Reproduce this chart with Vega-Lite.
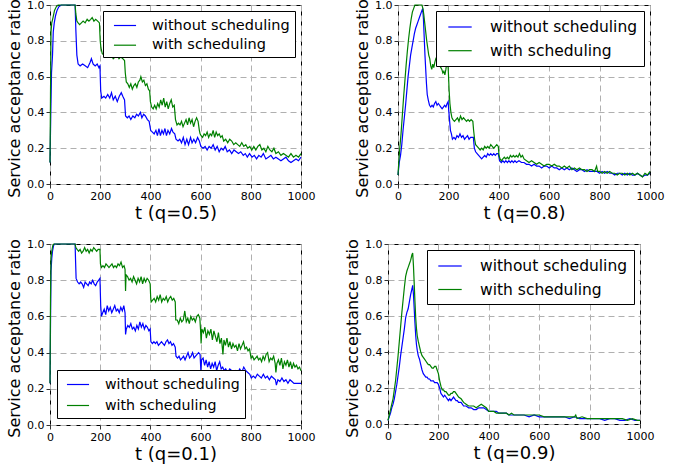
{
"$schema": "https://vega.github.io/schema/vega-lite/v6.json",
"padding": {"left": 6, "top": -2, "right": 0, "bottom": 0},
"config": {
 "font": "DejaVu Sans",
 "view": {"stroke": "#000", "strokeWidth": 1},
 "axis": {"domain": false, "grid": true, "gridColor": "#b0b0b0", "gridDash": [6, 4], "gridWidth": 1, "tickColor": "#000", "tickSize": 4, "tickWidth": 0.8, "labelColor": "#000", "labelFontSize": 11, "labelFont": "DejaVu Sans", "titleFont": "DejaVu Sans", "titleColor": "#000", "titleFontWeight": "normal", "labelFlush": false, "labelOverlap": false},
 "axisX": {"values": [0, 200, 400, 600, 800, 1000], "format": "d", "titleFontSize": 18, "titlePadding": 3, "labelPadding": 2},
 "axisY": {"values": [0, 0.2, 0.4, 0.6, 0.8, 1.0], "format": ".1f", "titleFontSize": 16, "titlePadding": 4, "labelPadding": 2, "titleY": 93},
 "legend": {"strokeColor": "#000", "fillColor": "#fff", "padding": 5, "symbolType": "M-1.3,0H1.3", "symbolSize": 289, "symbolStrokeWidth": 1.5, "symbolOffset": 7.5, "labelFontSize": 14.5, "labelFont": "DejaVu Sans", "labelColor": "#000", "labelOffset": 17.5, "rowPadding": 3.7, "offset": 6, "cornerRadius": 0, "title": null},
 "line": {"strokeWidth": 1.2}
},
"datasets": {
 "aw": [{"t":0,"v":0.12},{"t":3,"v":0.38},{"t":6,"v":0.62},{"t":10,"v":0.72},{"t":13,"v":0.85},{"t":17,"v":0.9},{"t":22,"v":0.94},{"t":28,"v":0.97},{"t":35,"v":0.99},{"t":45,"v":1.0},{"t":100,"v":1.0},{"t":103,"v":0.86},{"t":107,"v":0.72},{"t":112,"v":0.67},{"t":120,"v":0.66},{"t":130,"v":0.67},{"t":140,"v":0.66},{"t":150,"v":0.65},{"t":160,"v":0.68},{"t":165,"v":0.70},{"t":172,"v":0.67},{"t":180,"v":0.66},{"t":188,"v":0.67},{"t":195,"v":0.65},{"t":199,"v":0.66},{"t":202,"v":0.52},{"t":206,"v":0.48},{"t":215,"v":0.49},{"t":222,"v":0.48},{"t":230,"v":0.50},{"t":238,"v":0.48},{"t":245,"v":0.51},{"t":252,"v":0.47},{"t":260,"v":0.49},{"t":268,"v":0.46},{"t":276,"v":0.49},{"t":284,"v":0.51},{"t":290,"v":0.49},{"t":297,"v":0.47},{"t":301,"v":0.38},{"t":308,"v":0.37},{"t":315,"v":0.38},{"t":322,"v":0.36},{"t":330,"v":0.38},{"t":338,"v":0.37},{"t":345,"v":0.39},{"t":352,"v":0.38},{"t":360,"v":0.40},{"t":366,"v":0.37},{"t":373,"v":0.39},{"t":380,"v":0.38},{"t":388,"v":0.36},{"t":395,"v":0.35},{"t":401,"v":0.30},{"t":408,"v":0.29},{"t":415,"v":0.28},{"t":422,"v":0.30},{"t":428,"v":0.27},{"t":434,"v":0.31},{"t":440,"v":0.27},{"t":446,"v":0.30},{"t":452,"v":0.28},{"t":458,"v":0.31},{"t":464,"v":0.27},{"t":470,"v":0.30},{"t":477,"v":0.28},{"t":484,"v":0.31},{"t":490,"v":0.29},{"t":497,"v":0.28},{"t":502,"v":0.25},{"t":510,"v":0.24},{"t":517,"v":0.25},{"t":524,"v":0.23},{"t":531,"v":0.26},{"t":538,"v":0.22},{"t":545,"v":0.25},{"t":552,"v":0.22},{"t":560,"v":0.26},{"t":566,"v":0.23},{"t":573,"v":0.25},{"t":580,"v":0.23},{"t":588,"v":0.26},{"t":595,"v":0.24},{"t":601,"v":0.21},{"t":610,"v":0.20},{"t":618,"v":0.21},{"t":626,"v":0.19},{"t":634,"v":0.21},{"t":642,"v":0.20},{"t":650,"v":0.22},{"t":658,"v":0.19},{"t":666,"v":0.21},{"t":674,"v":0.18},{"t":682,"v":0.20},{"t":690,"v":0.19},{"t":698,"v":0.21},{"t":706,"v":0.18},{"t":715,"v":0.19},{"t":724,"v":0.17},{"t":733,"v":0.19},{"t":742,"v":0.18},{"t":751,"v":0.17},{"t":760,"v":0.18},{"t":770,"v":0.16},{"t":778,"v":0.17},{"t":786,"v":0.15},{"t":795,"v":0.17},{"t":805,"v":0.15},{"t":814,"v":0.16},{"t":823,"v":0.14},{"t":832,"v":0.16},{"t":841,"v":0.15},{"t":850,"v":0.17},{"t":860,"v":0.14},{"t":870,"v":0.15},{"t":880,"v":0.16},{"t":890,"v":0.14},{"t":900,"v":0.15},{"t":910,"v":0.14},{"t":920,"v":0.13},{"t":930,"v":0.14},{"t":940,"v":0.15},{"t":950,"v":0.13},{"t":960,"v":0.12},{"t":970,"v":0.13},{"t":980,"v":0.14},{"t":990,"v":0.13},{"t":1000,"v":0.15}],
 "ag": [{"t":0,"v":0.12},{"t":2,"v":0.5},{"t":4,"v":0.85},{"t":7,"v":0.9},{"t":12,"v":0.93},{"t":18,"v":0.97},{"t":25,"v":0.99},{"t":32,"v":1.0},{"t":100,"v":1.0},{"t":103,"v":0.95},{"t":107,"v":0.91},{"t":112,"v":0.90},{"t":118,"v":0.89},{"t":125,"v":0.90},{"t":132,"v":0.91},{"t":140,"v":0.90},{"t":148,"v":0.92},{"t":155,"v":0.91},{"t":162,"v":0.92},{"t":168,"v":0.93},{"t":175,"v":0.91},{"t":182,"v":0.92},{"t":190,"v":0.91},{"t":197,"v":0.90},{"t":200,"v":0.80},{"t":203,"v":0.76},{"t":208,"v":0.73},{"t":215,"v":0.72},{"t":222,"v":0.73},{"t":230,"v":0.72},{"t":238,"v":0.71},{"t":245,"v":0.72},{"t":252,"v":0.70},{"t":260,"v":0.71},{"t":268,"v":0.72},{"t":275,"v":0.70},{"t":282,"v":0.71},{"t":290,"v":0.70},{"t":297,"v":0.69},{"t":300,"v":0.62},{"t":304,"v":0.57},{"t":310,"v":0.56},{"t":316,"v":0.54},{"t":322,"v":0.56},{"t":328,"v":0.53},{"t":334,"v":0.55},{"t":340,"v":0.56},{"t":346,"v":0.54},{"t":352,"v":0.57},{"t":358,"v":0.58},{"t":362,"v":0.60},{"t":368,"v":0.57},{"t":374,"v":0.58},{"t":380,"v":0.55},{"t":386,"v":0.56},{"t":392,"v":0.53},{"t":397,"v":0.52},{"t":400,"v":0.46},{"t":405,"v":0.43},{"t":411,"v":0.42},{"t":417,"v":0.44},{"t":423,"v":0.42},{"t":429,"v":0.45},{"t":435,"v":0.43},{"t":441,"v":0.47},{"t":447,"v":0.44},{"t":453,"v":0.48},{"t":459,"v":0.43},{"t":465,"v":0.46},{"t":471,"v":0.42},{"t":477,"v":0.45},{"t":483,"v":0.47},{"t":489,"v":0.43},{"t":495,"v":0.44},{"t":500,"v":0.36},{"t":506,"v":0.33},{"t":512,"v":0.34},{"t":518,"v":0.33},{"t":524,"v":0.35},{"t":530,"v":0.32},{"t":536,"v":0.34},{"t":542,"v":0.36},{"t":548,"v":0.33},{"t":554,"v":0.37},{"t":560,"v":0.34},{"t":566,"v":0.36},{"t":572,"v":0.32},{"t":578,"v":0.35},{"t":584,"v":0.37},{"t":590,"v":0.35},{"t":595,"v":0.30},{"t":598,"v":0.28},{"t":602,"v":0.27},{"t":608,"v":0.26},{"t":614,"v":0.28},{"t":620,"v":0.27},{"t":626,"v":0.29},{"t":632,"v":0.26},{"t":638,"v":0.28},{"t":644,"v":0.27},{"t":650,"v":0.30},{"t":656,"v":0.26},{"t":662,"v":0.29},{"t":668,"v":0.27},{"t":674,"v":0.28},{"t":680,"v":0.26},{"t":686,"v":0.27},{"t":692,"v":0.24},{"t":700,"v":0.25},{"t":708,"v":0.23},{"t":716,"v":0.25},{"t":724,"v":0.24},{"t":732,"v":0.22},{"t":740,"v":0.23},{"t":748,"v":0.22},{"t":756,"v":0.21},{"t":764,"v":0.23},{"t":772,"v":0.21},{"t":780,"v":0.22},{"t":788,"v":0.20},{"t":796,"v":0.21},{"t":804,"v":0.19},{"t":812,"v":0.21},{"t":820,"v":0.19},{"t":828,"v":0.21},{"t":836,"v":0.22},{"t":844,"v":0.19},{"t":852,"v":0.20},{"t":860,"v":0.18},{"t":868,"v":0.21},{"t":876,"v":0.19},{"t":884,"v":0.18},{"t":892,"v":0.20},{"t":900,"v":0.17},{"t":910,"v":0.18},{"t":920,"v":0.16},{"t":930,"v":0.17},{"t":940,"v":0.16},{"t":950,"v":0.15},{"t":960,"v":0.17},{"t":970,"v":0.15},{"t":980,"v":0.16},{"t":990,"v":0.15},{"t":1000,"v":0.17}],
 "bw": [{"t":0,"v":0.05},{"t":5,"v":0.12},{"t":10,"v":0.16},{"t":15,"v":0.22},{"t":20,"v":0.30},{"t":25,"v":0.37},{"t":30,"v":0.44},{"t":35,"v":0.52},{"t":40,"v":0.60},{"t":45,"v":0.66},{"t":50,"v":0.72},{"t":55,"v":0.76},{"t":60,"v":0.80},{"t":65,"v":0.84},{"t":70,"v":0.87},{"t":75,"v":0.89},{"t":80,"v":0.91},{"t":85,"v":0.93},{"t":90,"v":0.95},{"t":95,"v":0.97},{"t":98,"v":0.98},{"t":101,"v":0.92},{"t":104,"v":0.82},{"t":107,"v":0.72},{"t":110,"v":0.64},{"t":113,"v":0.56},{"t":116,"v":0.50},{"t":120,"v":0.47},{"t":125,"v":0.44},{"t":130,"v":0.43},{"t":135,"v":0.44},{"t":140,"v":0.43},{"t":145,"v":0.45},{"t":150,"v":0.46},{"t":155,"v":0.44},{"t":160,"v":0.45},{"t":165,"v":0.44},{"t":170,"v":0.43},{"t":175,"v":0.42},{"t":180,"v":0.43},{"t":185,"v":0.44},{"t":190,"v":0.43},{"t":195,"v":0.45},{"t":199,"v":0.46},{"t":202,"v":0.40},{"t":205,"v":0.35},{"t":208,"v":0.30},{"t":212,"v":0.28},{"t":216,"v":0.25},{"t":222,"v":0.26},{"t":228,"v":0.25},{"t":234,"v":0.27},{"t":240,"v":0.26},{"t":246,"v":0.28},{"t":252,"v":0.26},{"t":258,"v":0.27},{"t":264,"v":0.25},{"t":270,"v":0.26},{"t":276,"v":0.27},{"t":282,"v":0.25},{"t":288,"v":0.26},{"t":294,"v":0.26},{"t":299,"v":0.26},{"t":303,"v":0.20},{"t":308,"v":0.18},{"t":314,"v":0.17},{"t":320,"v":0.16},{"t":326,"v":0.15},{"t":332,"v":0.14},{"t":338,"v":0.15},{"t":344,"v":0.16},{"t":350,"v":0.15},{"t":356,"v":0.17},{"t":362,"v":0.16},{"t":368,"v":0.17},{"t":374,"v":0.16},{"t":380,"v":0.17},{"t":386,"v":0.16},{"t":392,"v":0.17},{"t":398,"v":0.17},{"t":403,"v":0.13},{"t":410,"v":0.12},{"t":416,"v":0.13},{"t":422,"v":0.12},{"t":428,"v":0.13},{"t":434,"v":0.12},{"t":440,"v":0.13},{"t":446,"v":0.12},{"t":452,"v":0.13},{"t":458,"v":0.12},{"t":464,"v":0.13},{"t":470,"v":0.12},{"t":480,"v":0.13},{"t":490,"v":0.12},{"t":500,"v":0.12},{"t":510,"v":0.11},{"t":520,"v":0.11},{"t":530,"v":0.10},{"t":540,"v":0.11},{"t":550,"v":0.10},{"t":560,"v":0.10},{"t":570,"v":0.09},{"t":580,"v":0.10},{"t":590,"v":0.10},{"t":600,"v":0.09},{"t":610,"v":0.10},{"t":620,"v":0.09},{"t":630,"v":0.09},{"t":640,"v":0.08},{"t":650,"v":0.09},{"t":660,"v":0.08},{"t":670,"v":0.09},{"t":680,"v":0.08},{"t":690,"v":0.09},{"t":700,"v":0.08},{"t":710,"v":0.07},{"t":720,"v":0.08},{"t":730,"v":0.08},{"t":740,"v":0.07},{"t":750,"v":0.08},{"t":760,"v":0.07},{"t":770,"v":0.07},{"t":780,"v":0.07},{"t":790,"v":0.07},{"t":800,"v":0.06},{"t":810,"v":0.07},{"t":820,"v":0.06},{"t":830,"v":0.07},{"t":840,"v":0.06},{"t":850,"v":0.06},{"t":860,"v":0.05},{"t":870,"v":0.06},{"t":880,"v":0.06},{"t":890,"v":0.05},{"t":900,"v":0.06},{"t":910,"v":0.05},{"t":920,"v":0.06},{"t":930,"v":0.05},{"t":940,"v":0.05},{"t":950,"v":0.06},{"t":960,"v":0.05},{"t":970,"v":0.04},{"t":980,"v":0.05},{"t":990,"v":0.05},{"t":1000,"v":0.06}],
 "bg": [{"t":0,"v":0.05},{"t":3,"v":0.12},{"t":7,"v":0.2},{"t":12,"v":0.28},{"t":17,"v":0.38},{"t":22,"v":0.48},{"t":27,"v":0.57},{"t":32,"v":0.66},{"t":37,"v":0.74},{"t":42,"v":0.81},{"t":47,"v":0.87},{"t":52,"v":0.92},{"t":57,"v":0.96},{"t":62,"v":0.98},{"t":67,"v":1.0},{"t":95,"v":1.0},{"t":99,"v":0.98},{"t":102,"v":0.95},{"t":106,"v":0.90},{"t":110,"v":0.85},{"t":114,"v":0.80},{"t":118,"v":0.76},{"t":122,"v":0.72},{"t":126,"v":0.70},{"t":130,"v":0.66},{"t":134,"v":0.64},{"t":138,"v":0.67},{"t":142,"v":0.65},{"t":146,"v":0.68},{"t":150,"v":0.70},{"t":154,"v":0.69},{"t":158,"v":0.71},{"t":162,"v":0.69},{"t":166,"v":0.66},{"t":170,"v":0.65},{"t":174,"v":0.64},{"t":178,"v":0.62},{"t":182,"v":0.63},{"t":186,"v":0.61},{"t":190,"v":0.64},{"t":194,"v":0.68},{"t":197,"v":0.70},{"t":200,"v":0.62},{"t":203,"v":0.52},{"t":206,"v":0.45},{"t":210,"v":0.40},{"t":214,"v":0.37},{"t":218,"v":0.36},{"t":224,"v":0.35},{"t":230,"v":0.36},{"t":236,"v":0.37},{"t":242,"v":0.35},{"t":248,"v":0.38},{"t":254,"v":0.36},{"t":260,"v":0.37},{"t":266,"v":0.36},{"t":272,"v":0.35},{"t":278,"v":0.36},{"t":284,"v":0.35},{"t":290,"v":0.36},{"t":297,"v":0.35},{"t":300,"v":0.30},{"t":304,"v":0.25},{"t":308,"v":0.22},{"t":314,"v":0.21},{"t":320,"v":0.20},{"t":326,"v":0.19},{"t":332,"v":0.20},{"t":338,"v":0.19},{"t":344,"v":0.21},{"t":350,"v":0.20},{"t":356,"v":0.21},{"t":362,"v":0.20},{"t":368,"v":0.22},{"t":374,"v":0.21},{"t":380,"v":0.20},{"t":386,"v":0.21},{"t":392,"v":0.22},{"t":398,"v":0.21},{"t":401,"v":0.16},{"t":405,"v":0.14},{"t":410,"v":0.13},{"t":416,"v":0.14},{"t":422,"v":0.15},{"t":428,"v":0.14},{"t":434,"v":0.15},{"t":440,"v":0.14},{"t":446,"v":0.16},{"t":452,"v":0.15},{"t":458,"v":0.16},{"t":464,"v":0.15},{"t":470,"v":0.16},{"t":476,"v":0.15},{"t":482,"v":0.17},{"t":488,"v":0.15},{"t":494,"v":0.16},{"t":500,"v":0.14},{"t":510,"v":0.13},{"t":520,"v":0.12},{"t":530,"v":0.13},{"t":540,"v":0.12},{"t":550,"v":0.11},{"t":560,"v":0.12},{"t":570,"v":0.11},{"t":580,"v":0.10},{"t":590,"v":0.11},{"t":600,"v":0.11},{"t":610,"v":0.10},{"t":620,"v":0.11},{"t":630,"v":0.10},{"t":640,"v":0.10},{"t":650,"v":0.09},{"t":660,"v":0.10},{"t":670,"v":0.09},{"t":680,"v":0.10},{"t":690,"v":0.08},{"t":700,"v":0.09},{"t":710,"v":0.08},{"t":720,"v":0.09},{"t":730,"v":0.08},{"t":740,"v":0.08},{"t":750,"v":0.07},{"t":760,"v":0.08},{"t":770,"v":0.08},{"t":780,"v":0.07},{"t":788,"v":0.10},{"t":792,"v":0.07},{"t":800,"v":0.07},{"t":810,"v":0.06},{"t":820,"v":0.07},{"t":830,"v":0.06},{"t":840,"v":0.07},{"t":850,"v":0.06},{"t":860,"v":0.06},{"t":870,"v":0.05},{"t":880,"v":0.06},{"t":890,"v":0.06},{"t":900,"v":0.05},{"t":910,"v":0.06},{"t":920,"v":0.05},{"t":930,"v":0.06},{"t":940,"v":0.05},{"t":950,"v":0.06},{"t":960,"v":0.05},{"t":970,"v":0.04},{"t":980,"v":0.06},{"t":990,"v":0.05},{"t":1000,"v":0.07}],
 "cw": [{"t":0,"v":0.23},{"t":2,"v":0.55},{"t":4,"v":0.85},{"t":7,"v":0.92},{"t":10,"v":0.96},{"t":14,"v":0.99},{"t":18,"v":1.0},{"t":100,"v":1.0},{"t":102,"v":0.90},{"t":104,"v":0.81},{"t":110,"v":0.79},{"t":116,"v":0.78},{"t":122,"v":0.79},{"t":128,"v":0.78},{"t":134,"v":0.76},{"t":140,"v":0.79},{"t":146,"v":0.78},{"t":152,"v":0.77},{"t":158,"v":0.79},{"t":164,"v":0.78},{"t":170,"v":0.80},{"t":176,"v":0.78},{"t":182,"v":0.77},{"t":188,"v":0.79},{"t":194,"v":0.80},{"t":199,"v":0.81},{"t":202,"v":0.66},{"t":205,"v":0.60},{"t":210,"v":0.62},{"t":216,"v":0.64},{"t":222,"v":0.61},{"t":228,"v":0.66},{"t":234,"v":0.63},{"t":240,"v":0.65},{"t":246,"v":0.62},{"t":252,"v":0.64},{"t":258,"v":0.66},{"t":264,"v":0.63},{"t":270,"v":0.64},{"t":276,"v":0.62},{"t":282,"v":0.65},{"t":288,"v":0.63},{"t":294,"v":0.66},{"t":299,"v":0.62},{"t":301,"v":0.50},{"t":304,"v":0.53},{"t":310,"v":0.55},{"t":316,"v":0.54},{"t":322,"v":0.56},{"t":328,"v":0.53},{"t":334,"v":0.54},{"t":340,"v":0.52},{"t":346,"v":0.55},{"t":352,"v":0.53},{"t":358,"v":0.57},{"t":364,"v":0.54},{"t":370,"v":0.56},{"t":376,"v":0.53},{"t":382,"v":0.55},{"t":388,"v":0.54},{"t":394,"v":0.52},{"t":399,"v":0.53},{"t":402,"v":0.46},{"t":408,"v":0.45},{"t":414,"v":0.46},{"t":420,"v":0.45},{"t":426,"v":0.46},{"t":432,"v":0.44},{"t":438,"v":0.45},{"t":444,"v":0.46},{"t":450,"v":0.45},{"t":456,"v":0.44},{"t":462,"v":0.46},{"t":468,"v":0.47},{"t":474,"v":0.45},{"t":480,"v":0.46},{"t":486,"v":0.44},{"t":492,"v":0.45},{"t":499,"v":0.43},{"t":502,"v":0.38},{"t":508,"v":0.37},{"t":514,"v":0.38},{"t":520,"v":0.36},{"t":526,"v":0.37},{"t":532,"v":0.38},{"t":538,"v":0.36},{"t":544,"v":0.38},{"t":550,"v":0.40},{"t":556,"v":0.37},{"t":562,"v":0.38},{"t":568,"v":0.40},{"t":574,"v":0.37},{"t":580,"v":0.38},{"t":586,"v":0.39},{"t":592,"v":0.40},{"t":598,"v":0.39},{"t":601,"v":0.30},{"t":604,"v":0.36},{"t":610,"v":0.37},{"t":616,"v":0.33},{"t":622,"v":0.36},{"t":628,"v":0.32},{"t":634,"v":0.35},{"t":640,"v":0.31},{"t":646,"v":0.34},{"t":652,"v":0.32},{"t":658,"v":0.35},{"t":664,"v":0.30},{"t":670,"v":0.33},{"t":676,"v":0.35},{"t":682,"v":0.31},{"t":688,"v":0.32},{"t":694,"v":0.30},{"t":700,"v":0.31},{"t":708,"v":0.29},{"t":716,"v":0.31},{"t":724,"v":0.30},{"t":732,"v":0.28},{"t":740,"v":0.30},{"t":748,"v":0.29},{"t":756,"v":0.31},{"t":764,"v":0.29},{"t":772,"v":0.32},{"t":780,"v":0.30},{"t":788,"v":0.29},{"t":796,"v":0.28},{"t":802,"v":0.26},{"t":810,"v":0.27},{"t":818,"v":0.26},{"t":826,"v":0.28},{"t":834,"v":0.27},{"t":842,"v":0.26},{"t":850,"v":0.28},{"t":858,"v":0.26},{"t":866,"v":0.27},{"t":874,"v":0.25},{"t":882,"v":0.27},{"t":890,"v":0.26},{"t":898,"v":0.25},{"t":902,"v":0.22},{"t":908,"v":0.25},{"t":916,"v":0.24},{"t":924,"v":0.26},{"t":932,"v":0.24},{"t":940,"v":0.25},{"t":948,"v":0.23},{"t":956,"v":0.25},{"t":964,"v":0.24},{"t":972,"v":0.23},{"t":980,"v":0.23},{"t":990,"v":0.23},{"t":1000,"v":0.23}],
 "cg": [{"t":0,"v":0.23},{"t":2,"v":0.7},{"t":4,"v":0.92},{"t":7,"v":0.96},{"t":11,"v":0.99},{"t":15,"v":1.0},{"t":100,"v":1.0},{"t":103,"v":0.98},{"t":108,"v":0.97},{"t":114,"v":0.96},{"t":120,"v":0.97},{"t":126,"v":0.95},{"t":132,"v":0.96},{"t":138,"v":0.98},{"t":144,"v":0.96},{"t":150,"v":0.97},{"t":156,"v":0.95},{"t":162,"v":0.97},{"t":168,"v":0.96},{"t":174,"v":0.98},{"t":180,"v":0.97},{"t":186,"v":0.96},{"t":192,"v":0.97},{"t":199,"v":0.97},{"t":201,"v":0.89},{"t":205,"v":0.87},{"t":211,"v":0.88},{"t":217,"v":0.87},{"t":223,"v":0.89},{"t":229,"v":0.88},{"t":235,"v":0.87},{"t":241,"v":0.88},{"t":247,"v":0.89},{"t":253,"v":0.87},{"t":259,"v":0.88},{"t":265,"v":0.87},{"t":271,"v":0.89},{"t":277,"v":0.88},{"t":283,"v":0.90},{"t":289,"v":0.87},{"t":295,"v":0.88},{"t":299,"v":0.86},{"t":301,"v":0.74},{"t":303,"v":0.83},{"t":309,"v":0.82},{"t":315,"v":0.80},{"t":321,"v":0.81},{"t":327,"v":0.79},{"t":333,"v":0.82},{"t":339,"v":0.80},{"t":345,"v":0.78},{"t":351,"v":0.81},{"t":357,"v":0.79},{"t":363,"v":0.82},{"t":369,"v":0.78},{"t":375,"v":0.81},{"t":381,"v":0.79},{"t":387,"v":0.81},{"t":393,"v":0.80},{"t":399,"v":0.78},{"t":401,"v":0.71},{"t":403,"v":0.68},{"t":409,"v":0.69},{"t":415,"v":0.70},{"t":421,"v":0.68},{"t":427,"v":0.71},{"t":433,"v":0.69},{"t":439,"v":0.72},{"t":445,"v":0.68},{"t":451,"v":0.70},{"t":457,"v":0.69},{"t":463,"v":0.71},{"t":469,"v":0.68},{"t":475,"v":0.70},{"t":481,"v":0.71},{"t":487,"v":0.69},{"t":493,"v":0.70},{"t":499,"v":0.68},{"t":501,"v":0.58},{"t":507,"v":0.58},{"t":513,"v":0.56},{"t":519,"v":0.59},{"t":525,"v":0.57},{"t":531,"v":0.58},{"t":537,"v":0.63},{"t":543,"v":0.57},{"t":549,"v":0.59},{"t":555,"v":0.56},{"t":561,"v":0.60},{"t":567,"v":0.58},{"t":573,"v":0.59},{"t":579,"v":0.57},{"t":585,"v":0.60},{"t":591,"v":0.61},{"t":597,"v":0.59},{"t":600,"v":0.52},{"t":602,"v":0.45},{"t":605,"v":0.53},{"t":611,"v":0.51},{"t":617,"v":0.54},{"t":623,"v":0.48},{"t":629,"v":0.52},{"t":635,"v":0.50},{"t":641,"v":0.53},{"t":647,"v":0.47},{"t":653,"v":0.52},{"t":659,"v":0.49},{"t":665,"v":0.46},{"t":671,"v":0.51},{"t":677,"v":0.45},{"t":683,"v":0.48},{"t":689,"v":0.39},{"t":693,"v":0.47},{"t":699,"v":0.44},{"t":705,"v":0.48},{"t":711,"v":0.43},{"t":717,"v":0.46},{"t":723,"v":0.42},{"t":729,"v":0.45},{"t":735,"v":0.43},{"t":741,"v":0.44},{"t":747,"v":0.41},{"t":753,"v":0.45},{"t":759,"v":0.42},{"t":765,"v":0.44},{"t":771,"v":0.46},{"t":777,"v":0.42},{"t":783,"v":0.43},{"t":789,"v":0.41},{"t":795,"v":0.42},{"t":801,"v":0.37},{"t":807,"v":0.38},{"t":813,"v":0.36},{"t":819,"v":0.37},{"t":825,"v":0.38},{"t":831,"v":0.36},{"t":837,"v":0.37},{"t":843,"v":0.35},{"t":849,"v":0.38},{"t":855,"v":0.36},{"t":861,"v":0.39},{"t":867,"v":0.40},{"t":873,"v":0.35},{"t":879,"v":0.37},{"t":885,"v":0.36},{"t":891,"v":0.38},{"t":897,"v":0.34},{"t":900,"v":0.29},{"t":904,"v":0.34},{"t":910,"v":0.36},{"t":916,"v":0.33},{"t":922,"v":0.37},{"t":928,"v":0.31},{"t":934,"v":0.35},{"t":940,"v":0.33},{"t":946,"v":0.36},{"t":952,"v":0.32},{"t":958,"v":0.35},{"t":964,"v":0.31},{"t":970,"v":0.34},{"t":976,"v":0.32},{"t":982,"v":0.33},{"t":988,"v":0.31},{"t":994,"v":0.32},{"t":1000,"v":0.30}],
 "dw": [{"t":0,"v":0.02},{"t":5,"v":0.04},{"t":10,"v":0.06},{"t":15,"v":0.09},{"t":20,"v":0.11},{"t":25,"v":0.14},{"t":30,"v":0.18},{"t":35,"v":0.22},{"t":40,"v":0.27},{"t":45,"v":0.32},{"t":50,"v":0.38},{"t":55,"v":0.43},{"t":60,"v":0.48},{"t":65,"v":0.53},{"t":70,"v":0.59},{"t":75,"v":0.62},{"t":80,"v":0.64},{"t":85,"v":0.68},{"t":90,"v":0.72},{"t":95,"v":0.75},{"t":98,"v":0.77},{"t":101,"v":0.72},{"t":104,"v":0.64},{"t":107,"v":0.56},{"t":110,"v":0.49},{"t":113,"v":0.44},{"t":116,"v":0.41},{"t":120,"v":0.38},{"t":125,"v":0.36},{"t":130,"v":0.33},{"t":135,"v":0.30},{"t":140,"v":0.28},{"t":145,"v":0.27},{"t":150,"v":0.26},{"t":155,"v":0.26},{"t":160,"v":0.25},{"t":165,"v":0.25},{"t":170,"v":0.24},{"t":175,"v":0.24},{"t":180,"v":0.24},{"t":185,"v":0.23},{"t":190,"v":0.23},{"t":195,"v":0.23},{"t":200,"v":0.22},{"t":205,"v":0.20},{"t":210,"v":0.17},{"t":215,"v":0.16},{"t":220,"v":0.15},{"t":225,"v":0.16},{"t":230,"v":0.15},{"t":235,"v":0.14},{"t":240,"v":0.13},{"t":245,"v":0.14},{"t":250,"v":0.13},{"t":255,"v":0.14},{"t":260,"v":0.15},{"t":265,"v":0.14},{"t":270,"v":0.13},{"t":275,"v":0.13},{"t":280,"v":0.12},{"t":290,"v":0.12},{"t":300,"v":0.10},{"t":310,"v":0.10},{"t":320,"v":0.09},{"t":330,"v":0.09},{"t":340,"v":0.08},{"t":350,"v":0.08},{"t":360,"v":0.09},{"t":370,"v":0.09},{"t":380,"v":0.09},{"t":390,"v":0.08},{"t":400,"v":0.07},{"t":410,"v":0.07},{"t":420,"v":0.07},{"t":430,"v":0.07},{"t":440,"v":0.06},{"t":450,"v":0.06},{"t":460,"v":0.06},{"t":470,"v":0.06},{"t":480,"v":0.05},{"t":490,"v":0.05},{"t":500,"v":0.05},{"t":520,"v":0.05},{"t":540,"v":0.05},{"t":560,"v":0.04},{"t":580,"v":0.05},{"t":600,"v":0.04},{"t":620,"v":0.04},{"t":640,"v":0.04},{"t":660,"v":0.04},{"t":680,"v":0.04},{"t":700,"v":0.04},{"t":720,"v":0.03},{"t":740,"v":0.04},{"t":760,"v":0.03},{"t":780,"v":0.03},{"t":800,"v":0.03},{"t":820,"v":0.03},{"t":840,"v":0.03},{"t":860,"v":0.02},{"t":880,"v":0.03},{"t":900,"v":0.03},{"t":920,"v":0.02},{"t":940,"v":0.02},{"t":960,"v":0.03},{"t":980,"v":0.02},{"t":1000,"v":0.02}],
 "dg": [{"t":0,"v":0.02},{"t":5,"v":0.05},{"t":10,"v":0.08},{"t":15,"v":0.11},{"t":20,"v":0.14},{"t":25,"v":0.19},{"t":30,"v":0.24},{"t":35,"v":0.31},{"t":40,"v":0.38},{"t":45,"v":0.46},{"t":50,"v":0.54},{"t":55,"v":0.62},{"t":60,"v":0.69},{"t":65,"v":0.76},{"t":70,"v":0.82},{"t":75,"v":0.85},{"t":80,"v":0.87},{"t":85,"v":0.89},{"t":90,"v":0.91},{"t":95,"v":0.94},{"t":98,"v":0.95},{"t":101,"v":0.88},{"t":104,"v":0.78},{"t":107,"v":0.68},{"t":110,"v":0.59},{"t":113,"v":0.53},{"t":116,"v":0.49},{"t":120,"v":0.46},{"t":125,"v":0.43},{"t":130,"v":0.40},{"t":135,"v":0.38},{"t":140,"v":0.37},{"t":145,"v":0.36},{"t":150,"v":0.35},{"t":155,"v":0.34},{"t":160,"v":0.33},{"t":165,"v":0.33},{"t":170,"v":0.32},{"t":175,"v":0.31},{"t":180,"v":0.31},{"t":185,"v":0.32},{"t":190,"v":0.32},{"t":195,"v":0.30},{"t":200,"v":0.28},{"t":205,"v":0.24},{"t":210,"v":0.21},{"t":215,"v":0.19},{"t":220,"v":0.19},{"t":225,"v":0.18},{"t":230,"v":0.18},{"t":235,"v":0.17},{"t":240,"v":0.16},{"t":245,"v":0.16},{"t":250,"v":0.17},{"t":255,"v":0.17},{"t":260,"v":0.18},{"t":265,"v":0.18},{"t":270,"v":0.17},{"t":275,"v":0.16},{"t":280,"v":0.15},{"t":290,"v":0.14},{"t":300,"v":0.12},{"t":310,"v":0.11},{"t":320,"v":0.10},{"t":330,"v":0.10},{"t":340,"v":0.10},{"t":350,"v":0.09},{"t":360,"v":0.10},{"t":370,"v":0.11},{"t":380,"v":0.10},{"t":390,"v":0.09},{"t":400,"v":0.07},{"t":410,"v":0.07},{"t":420,"v":0.07},{"t":430,"v":0.06},{"t":440,"v":0.06},{"t":450,"v":0.06},{"t":460,"v":0.06},{"t":470,"v":0.06},{"t":480,"v":0.05},{"t":490,"v":0.06},{"t":500,"v":0.05},{"t":520,"v":0.05},{"t":540,"v":0.05},{"t":560,"v":0.05},{"t":580,"v":0.05},{"t":600,"v":0.05},{"t":620,"v":0.04},{"t":640,"v":0.04},{"t":660,"v":0.04},{"t":680,"v":0.04},{"t":700,"v":0.04},{"t":720,"v":0.04},{"t":740,"v":0.04},{"t":745,"v":0.05},{"t":750,"v":0.03},{"t":770,"v":0.04},{"t":790,"v":0.03},{"t":810,"v":0.03},{"t":830,"v":0.03},{"t":850,"v":0.03},{"t":870,"v":0.03},{"t":890,"v":0.03},{"t":910,"v":0.03},{"t":930,"v":0.03},{"t":950,"v":0.02},{"t":970,"v":0.03},{"t":990,"v":0.02},{"t":1000,"v":0.02}]
},
"spacing": 14,
"resolve": {"scale": {"color": "independent"}, "legend": {"color": "independent"}},
"vconcat": [
 {"spacing": 38, "resolve": {"scale": {"color": "independent"}, "legend": {"color": "independent"}},
  "hconcat": [
  {"width": 251, "height": 179,
   "encoding": {
    "x": {"field": "t", "type": "quantitative", "scale": {"domain": [0, 1000]}, "axis": {"title": "t (q=0.5)"}},
    "y": {"field": "v", "type": "quantitative", "scale": {"domain": [0, 1]}, "axis": {"title": "Service acceptance ratio"}}
   },
   "layer": [
    {"data": {"name": "aw"}, "mark": {"type": "line"}, "encoding": {"color": {"datum": "without scheduling", "type": "nominal", "scale": {"domain": ["without scheduling", "with scheduling"], "range": ["#0000ff", "#008000"]}, "legend": {"orient": "top-right", "labelFontSize": 14.5}}}},
    {"data": {"name": "ag"}, "mark": {"type": "line"}, "encoding": {"color": {"datum": "with scheduling", "type": "nominal"}}}
   ]},
  {"width": 252, "height": 179,
   "encoding": {
    "x": {"field": "t", "type": "quantitative", "scale": {"domain": [0, 1000]}, "axis": {"title": "t (q=0.8)"}},
    "y": {"field": "v", "type": "quantitative", "scale": {"domain": [0, 1]}, "axis": {"title": "Service acceptance ratio"}}
   },
   "layer": [
    {"data": {"name": "bw"}, "mark": {"type": "line"}, "encoding": {"color": {"datum": "without scheduling", "type": "nominal", "scale": {"domain": ["without scheduling", "with scheduling"], "range": ["#0000ff", "#008000"]}, "legend": {"orient": "top-right", "labelFontSize": 15.5, "padding": 6, "rowPadding": 4.7, "symbolSize": 324, "symbolOffset": 8, "labelOffset": 20}}}},
    {"data": {"name": "bg"}, "mark": {"type": "line"}, "encoding": {"color": {"datum": "with scheduling", "type": "nominal"}}}
   ]}
 ]},
 {"spacing": 28, "resolve": {"scale": {"color": "independent"}, "legend": {"color": "independent"}},
  "hconcat": [
  {"width": 251, "height": 181,
   "encoding": {
    "x": {"field": "t", "type": "quantitative", "scale": {"domain": [0, 1000]}, "axis": {"title": "t (q=0.1)"}},
    "y": {"field": "v", "type": "quantitative", "scale": {"domain": [0, 1]}, "axis": {"title": "Service acceptance ratio", "titleY": 94}}
   },
   "layer": [
    {"data": {"name": "cw"}, "mark": {"type": "line"}, "encoding": {"color": {"datum": "without scheduling", "type": "nominal", "scale": {"domain": ["without scheduling", "with scheduling"], "range": ["#0000ff", "#008000"]}, "legend": {"orient": "bottom-left", "labelFontSize": 14.2, "offset": 7, "rowPadding": 4, "symbolOffset": 6.5, "labelOffset": 17.5}}}},
    {"data": {"name": "cg"}, "mark": {"type": "line"}, "encoding": {"color": {"datum": "with scheduling", "type": "nominal"}}}
   ]},
  {"width": 252, "height": 180,
   "encoding": {
    "x": {"field": "t", "type": "quantitative", "scale": {"domain": [0, 1000]}, "axis": {"title": "t (q=0.9)"}},
    "y": {"field": "v", "type": "quantitative", "scale": {"domain": [0, 1]}, "axis": {"title": "Service acceptance ratio", "titleY": 94}}
   },
   "layer": [
    {"data": {"name": "dw"}, "mark": {"type": "line"}, "encoding": {"color": {"datum": "without scheduling", "type": "nominal", "scale": {"domain": ["without scheduling", "with scheduling"], "range": ["#0000ff", "#008000"]}, "legend": {"orient": "top-right", "labelFontSize": 15.5, "padding": 6, "rowPadding": 4.5, "symbolSize": 324, "symbolOffset": 7, "labelOffset": 20}}}},
    {"data": {"name": "dg"}, "mark": {"type": "line"}, "encoding": {"color": {"datum": "with scheduling", "type": "nominal"}}}
   ]}
 ]}
]
}
